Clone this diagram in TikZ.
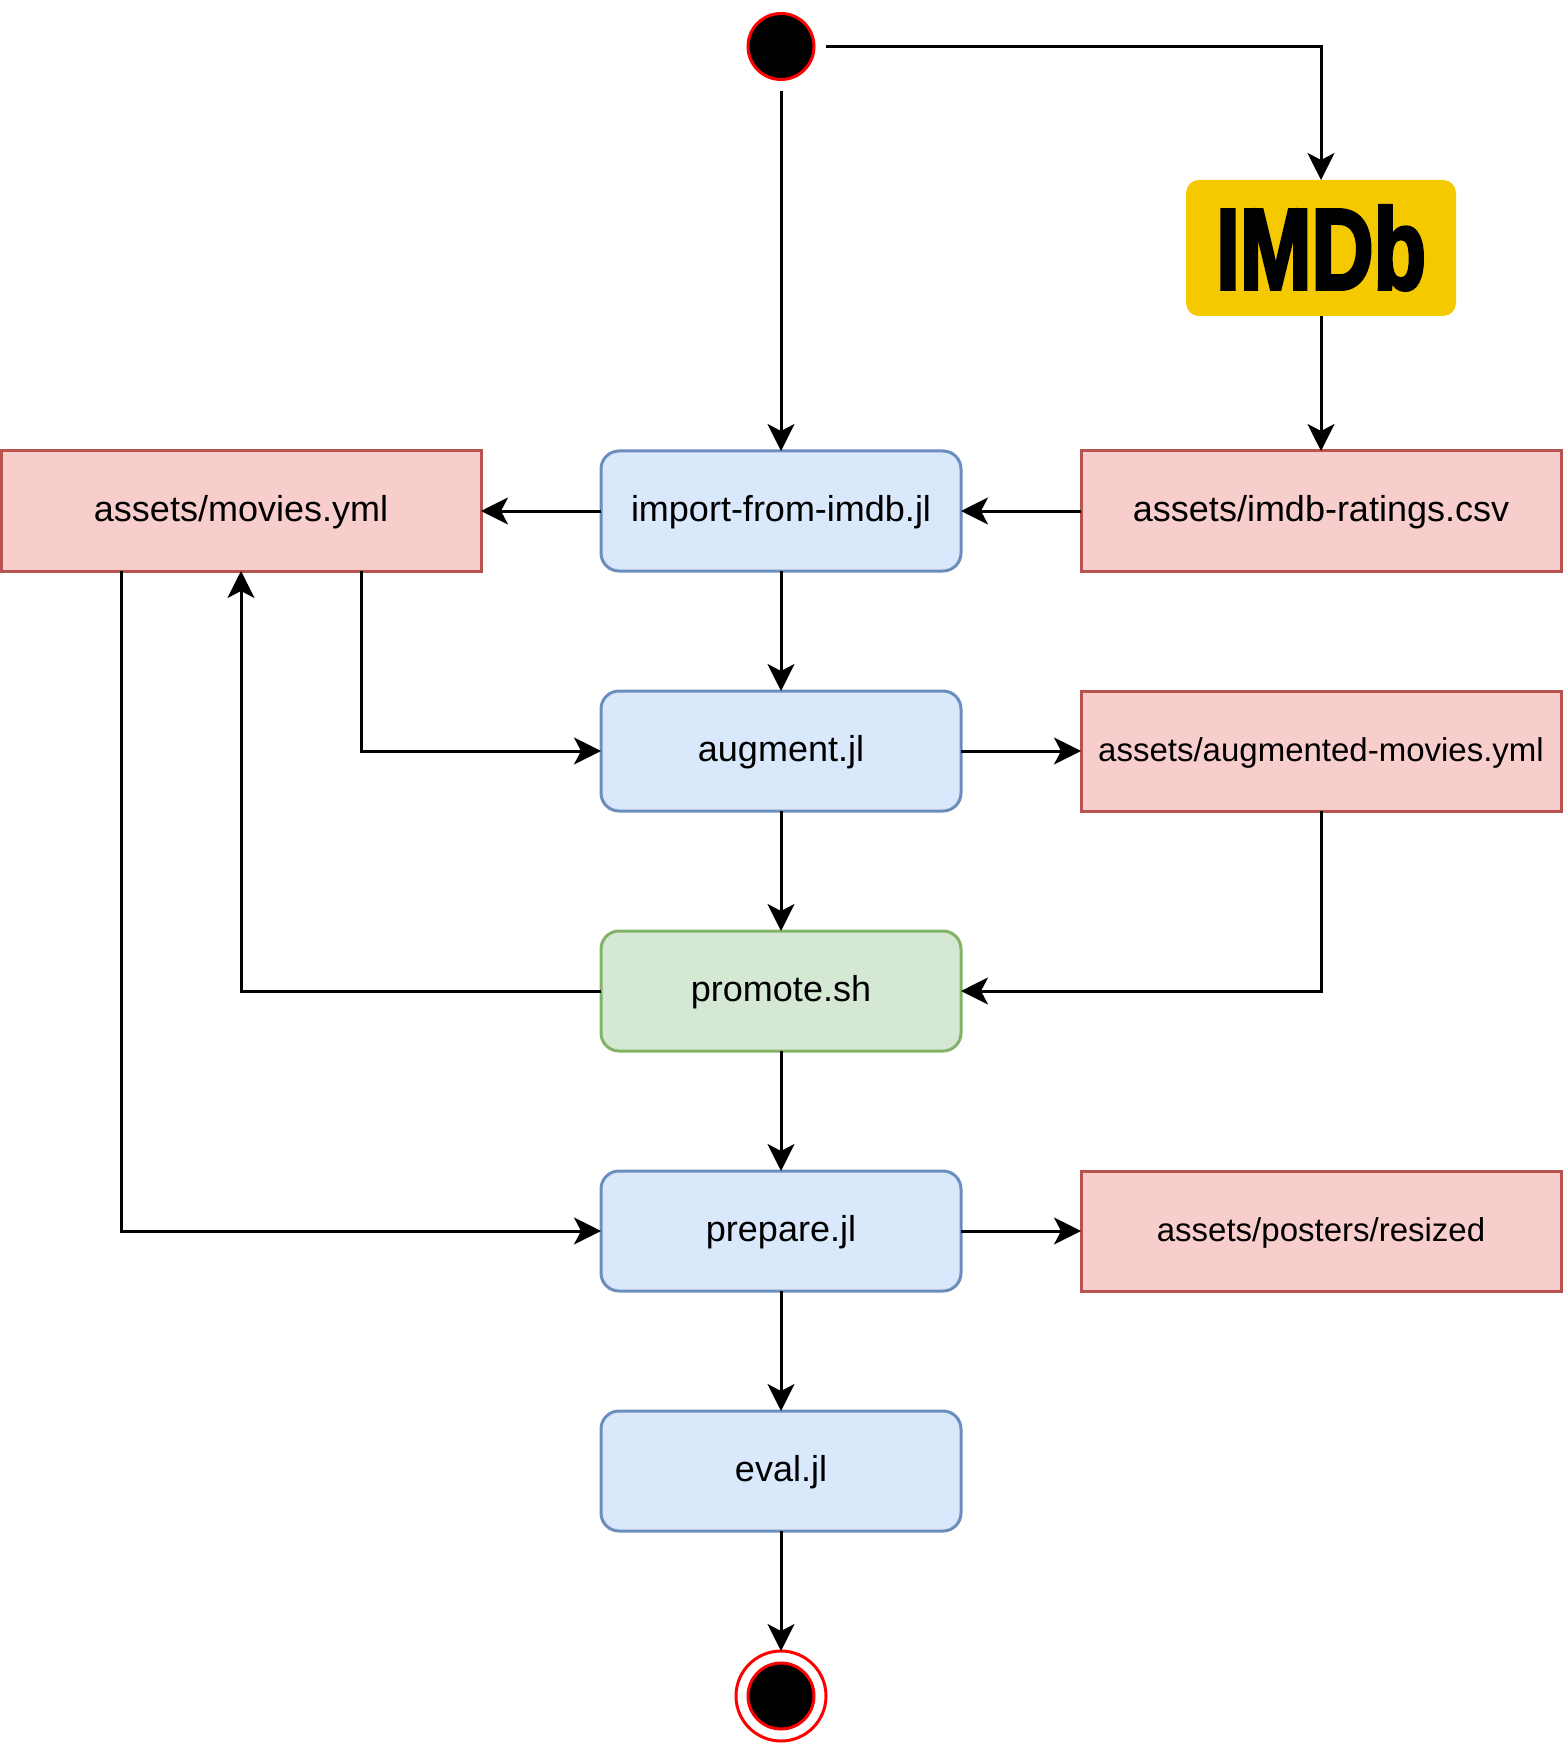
\documentclass[tikz,border=0pt]{standalone}
\usepackage{fontspec}
\setmainfont{Liberation Sans}
\newfontfamily\imdbfont[FakeBold=3.5]{Liberation Sans Bold}
\usepackage{xcolor}
\usepackage{tikz}
\usetikzlibrary{arrows.meta, positioning, calc}
\definecolor{jlfill}{HTML}{DAE8FC}
\definecolor{jldraw}{HTML}{6C8EBF}
\definecolor{filefill}{HTML}{F8CECC}
\definecolor{filedraw}{HTML}{B85450}
\definecolor{shfill}{HTML}{D5E8D4}
\definecolor{shdraw}{HTML}{82B366}
\definecolor{imdbgold}{HTML}{F5C900}
\tikzset{
  jbox/.style={draw=jldraw, fill=jlfill, rounded corners=9pt, align=center, outer sep=0pt,
    minimum height=60pt, minimum width=180pt, font=\fontsize{18}{22}\selectfont,
    text height=14pt, text depth=3.3pt, line width=1.5pt},
  sbox/.style={jbox, draw=shdraw, fill=shfill},
  fbox/.style={draw=filedraw, fill=filefill, align=center, outer sep=0pt,
    minimum height=60pt, minimum width=240pt, font=\fontsize{18}{22}\selectfont,
    text height=14pt, text depth=3.3pt, line width=1.5pt},
  fsmall/.style={fbox, font=\fontsize{16.5}{20}\selectfont, text height=13pt, text depth=3pt},
  dot/.style={circle, draw=red, fill=black, minimum size=33pt, inner sep=0pt, outer sep=0pt, line width=1.5pt},
  ring/.style={circle, draw=red, fill=white, minimum size=45pt, inner sep=0pt, outer sep=0pt, line width=1.5pt},
  flow/.style={-{Stealth[length=13.5pt, width=13.5pt, inset=3.5pt]}, draw=black, line width=1.5pt}
}
\begin{document}
\begin{tikzpicture}[node distance=60pt and 60pt]
\useasboundingbox (0,0) rectangle (781.5pt,-871.5pt);
\node[jbox] (import) at (390.5pt,-255.5pt) {import-from-imdb.jl};
\node[jbox, below=of import] (augment) {augment.jl};
\node[sbox, below=of augment] (promote) {promote.sh};
\node[jbox, below=of promote] (prepare) {prepare.jl};
\node[jbox, below=of prepare] (eval) {eval.jl};
\node[fbox, left=of import] (movies) {assets/movies.yml};
\node[fbox, right=of import] (ratings) {assets/imdb-ratings.csv};
\node[fsmall, right=of augment] (augmented) {assets/augmented-movies.yml};
\node[fsmall, right=of prepare] (resized) {assets/posters/resized};
\node[draw=none, fill=imdbgold, rounded corners=6.5pt, minimum width=135pt, minimum height=68pt,
  inner sep=0pt, outer sep=0pt, above=67.5pt of ratings] (imdb) {\resizebox{105pt}{41.5pt}{\imdbfont IMDb}};
\node[dot, above=185.75pt of import] (start) {};
\node[ring, below=60pt of eval] (stop) {};
\node[dot] (stopdot) at (stop) {};
\coordinate[below=6pt of start] (startdown);
\coordinate[right=6pt of start] (startright);
\draw[flow] (startdown)--(import);
\draw[flow] (startright)-|(imdb);
\draw[flow] (imdb)--(ratings);
\draw[flow] (ratings)--(import); \draw[flow] (import)--(movies);
\draw[flow] (import)--(augment); \draw[flow] (augment)--(promote);
\draw[flow] (promote)--(prepare); \draw[flow] (prepare)--(eval); \draw[flow] (eval)--(stop);
\draw[flow] (augment)--(augmented); \draw[flow] (prepare)--(resized);
\draw[flow] (augmented)|-(promote);
\draw[flow] (promote)-|(movies);
\draw[flow] ($(movies.south west)!0.75!(movies.south east)$)|-(augment);
\draw[flow] ($(movies.south west)!0.25!(movies.south east)$)|-(prepare);
\end{tikzpicture}
\end{document}
